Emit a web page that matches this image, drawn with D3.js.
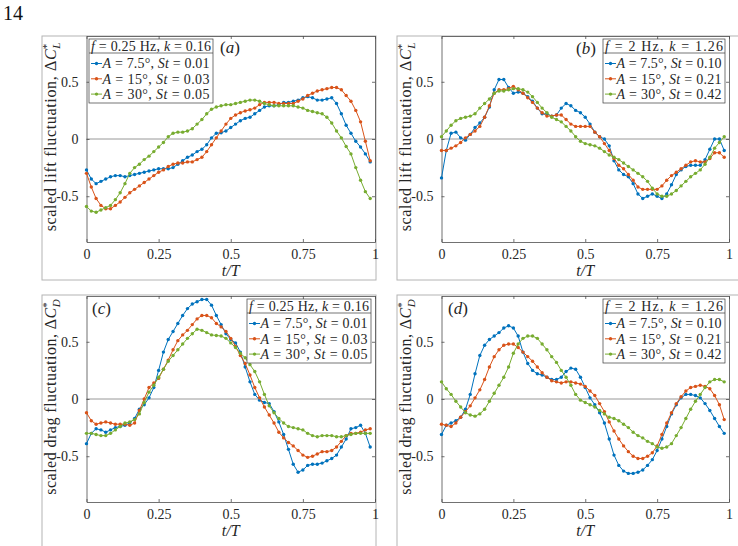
<!DOCTYPE html>
<html>
<head>
<meta charset="utf-8">
<script src="https://cdn.jsdelivr.net/npm/d3@7"></script>
<style>
  body { margin: 0; background: #fff; }
</style>
</head>
<body>
<script>
// sample phase t/T, 60 samples per cycle
var phase = d3.range(60).map(function(i) { return i / 60; });

// (a) lift, f = 0.25 Hz
var liftLow75 = [-0.27,-0.35,-0.39,-0.37,-0.35,-0.33,-0.32,-0.32,-0.33,-0.32,
  -0.31,-0.30,-0.29,-0.28,-0.27,-0.26,-0.26,-0.26,-0.25,-0.22,
  -0.19,-0.16,-0.14,-0.11,-0.09,-0.05,0.01,0.05,0.055,0.07,
  0.10,0.13,0.16,0.18,0.19,0.22,0.25,0.28,0.29,0.29,
  0.30,0.32,0.32,0.33,0.34,0.36,0.37,0.36,0.34,0.34,
  0.35,0.36,0.31,0.22,0.12,0.05,-0.02,-0.07,-0.13,-0.20];
var liftLow15 = [-0.30,-0.42,-0.52,-0.58,-0.61,-0.61,-0.58,-0.55,-0.51,-0.47,
  -0.44,-0.41,-0.38,-0.35,-0.32,-0.29,-0.27,-0.24,-0.22,-0.21,
  -0.21,-0.20,-0.20,-0.18,-0.16,-0.11,-0.05,0.01,0.07,0.13,
  0.18,0.21,0.23,0.245,0.255,0.27,0.30,0.32,0.32,0.32,
  0.31,0.31,0.31,0.31,0.33,0.35,0.38,0.40,0.42,0.43,
  0.44,0.45,0.45,0.43,0.38,0.33,0.25,0.15,-0.02,-0.19];
var liftLow30 = [-0.59,-0.63,-0.64,-0.62,-0.60,-0.58,-0.53,-0.47,-0.39,-0.30,
  -0.25,-0.22,-0.18,-0.15,-0.11,-0.07,-0.03,0.02,0.05,0.06,
  0.06,0.07,0.09,0.13,0.17,0.22,0.26,0.28,0.29,0.30,
  0.30,0.31,0.32,0.33,0.34,0.34,0.33,0.31,0.30,0.29,
  0.29,0.29,0.29,0.29,0.28,0.27,0.25,0.24,0.23,0.22,
  0.19,0.14,0.07,0.01,-0.065,-0.13,-0.25,-0.36,-0.46,-0.52];

// (b) lift, f = 2 Hz
var liftHigh75 = [-0.34,-0.10,0.05,0.06,0.01,-0.01,0.04,0.10,0.14,0.19,
  0.28,0.43,0.52,0.52,0.45,0.40,0.41,0.40,0.37,0.33,
  0.27,0.22,0.22,0.20,0.21,0.27,0.31,0.29,0.25,0.23,
  0.19,0.13,0.06,0.02,0.00,-0.06,-0.19,-0.27,-0.31,-0.33,
  -0.39,-0.48,-0.52,-0.50,-0.48,-0.50,-0.52,-0.48,-0.40,-0.31,
  -0.27,-0.24,-0.23,-0.23,-0.23,-0.18,-0.09,0.00,0.00,-0.10];
var liftHigh15 = [-0.10,-0.10,-0.08,-0.06,-0.03,0.01,0.04,0.07,0.11,0.19,
  0.29,0.40,0.43,0.43,0.44,0.46,0.43,0.40,0.36,0.32,
  0.27,0.23,0.20,0.20,0.21,0.21,0.17,0.13,0.11,0.11,
  0.11,0.11,0.06,0.02,-0.04,-0.10,-0.17,-0.23,-0.26,-0.31,
  -0.36,-0.42,-0.44,-0.44,-0.44,-0.44,-0.41,-0.36,-0.32,-0.29,
  -0.26,-0.23,-0.20,-0.19,-0.20,-0.20,-0.17,-0.12,-0.12,-0.16];
var liftHigh30 = [0.02,0.07,0.12,0.16,0.18,0.19,0.20,0.22,0.27,0.31,
  0.35,0.40,0.42,0.42,0.43,0.44,0.44,0.43,0.41,0.37,
  0.32,0.27,0.23,0.19,0.17,0.15,0.11,0.07,0.02,-0.02,
  -0.04,-0.05,-0.06,-0.08,-0.11,-0.14,-0.16,-0.18,-0.21,-0.24,
  -0.27,-0.30,-0.33,-0.37,-0.43,-0.48,-0.50,-0.50,-0.48,-0.45,
  -0.41,-0.37,-0.33,-0.30,-0.27,-0.22,-0.16,-0.08,-0.03,0.02];

// (c) drag, f = 0.25 Hz
var dragLow75 = [-0.39,-0.30,-0.26,-0.27,-0.29,-0.27,-0.25,-0.24,-0.23,-0.21,
  -0.17,-0.09,-0.05,0.01,0.10,0.25,0.41,0.52,0.59,0.66,
  0.73,0.79,0.83,0.85,0.87,0.87,0.82,0.73,0.65,0.57,
  0.52,0.49,0.41,0.28,0.15,0.04,-0.01,-0.03,-0.04,-0.11,
  -0.20,-0.31,-0.44,-0.57,-0.64,-0.62,-0.58,-0.57,-0.57,-0.56,
  -0.54,-0.52,-0.49,-0.42,-0.35,-0.26,-0.25,-0.23,-0.30,-0.42];
var dragLow15 = [-0.12,-0.19,-0.22,-0.21,-0.20,-0.21,-0.22,-0.22,-0.22,-0.23,
  -0.21,-0.10,0.00,0.10,0.14,0.18,0.26,0.34,0.43,0.51,
  0.56,0.60,0.65,0.70,0.73,0.73,0.71,0.66,0.63,0.59,
  0.53,0.46,0.38,0.31,0.21,0.10,0.01,-0.07,-0.14,-0.21,
  -0.29,-0.34,-0.38,-0.41,-0.45,-0.49,-0.51,-0.50,-0.48,-0.46,
  -0.46,-0.45,-0.42,-0.37,-0.32,-0.30,-0.30,-0.29,-0.27,-0.26];
var dragLow30 = [-0.30,-0.30,-0.31,-0.32,-0.32,-0.30,-0.27,-0.24,-0.21,-0.20,
  -0.18,-0.13,-0.03,0.06,0.12,0.19,0.26,0.33,0.38,0.43,
  0.48,0.53,0.57,0.61,0.60,0.58,0.56,0.555,0.55,0.53,
  0.49,0.45,0.40,0.36,0.30,0.24,0.15,0.04,-0.06,-0.12,
  -0.17,-0.21,-0.24,-0.25,-0.26,-0.27,-0.30,-0.32,-0.33,-0.32,
  -0.32,-0.32,-0.33,-0.33,-0.32,-0.31,-0.30,-0.30,-0.30,-0.30];

// (d) drag, f = 2 Hz
var dragHigh75 = [-0.31,-0.23,-0.21,-0.19,-0.16,-0.09,0.04,0.22,0.38,0.47,
  0.52,0.55,0.58,0.62,0.64,0.62,0.55,0.41,0.31,0.25,
  0.22,0.21,0.19,0.17,0.17,0.19,0.24,0.27,0.26,0.19,
  0.10,0.01,-0.05,-0.12,-0.21,-0.35,-0.49,-0.58,-0.63,-0.65,
  -0.65,-0.64,-0.62,-0.58,-0.53,-0.45,-0.35,-0.24,-0.13,-0.05,
  0.01,0.04,0.04,0.03,0.01,-0.04,-0.10,-0.17,-0.24,-0.30];
var dragHigh15 = [-0.22,-0.23,-0.24,-0.21,-0.16,-0.11,-0.06,0.01,0.08,0.17,
  0.28,0.37,0.43,0.47,0.48,0.48,0.45,0.41,0.37,0.33,
  0.28,0.23,0.19,0.16,0.15,0.14,0.15,0.15,0.14,0.13,
  0.11,0.07,0.03,-0.04,-0.11,-0.20,-0.28,-0.35,-0.41,-0.46,
  -0.50,-0.52,-0.52,-0.50,-0.47,-0.41,-0.31,-0.21,-0.12,-0.04,
  0.02,0.07,0.10,0.11,0.12,0.11,0.09,0.03,-0.05,-0.18];
var dragHigh30 = [0.15,0.09,0.04,-0.02,-0.07,-0.12,-0.14,-0.15,-0.13,-0.09,
  -0.02,0.05,0.12,0.19,0.28,0.40,0.48,0.53,0.55,0.55,
  0.53,0.48,0.43,0.37,0.32,0.25,0.19,0.12,0.04,-0.01,
  -0.03,-0.05,-0.07,-0.10,-0.13,-0.16,-0.17,-0.19,-0.22,-0.25,
  -0.29,-0.32,-0.34,-0.37,-0.39,-0.42,-0.43,-0.42,-0.39,-0.32,
  -0.25,-0.17,-0.09,-0.02,0.04,0.10,0.15,0.17,0.17,0.15];

var seriesColors = ["#0072BD", "#D95319", "#77AC30"];
var ampLabels = ["7.5°", "15°", "30°"];
var stLow = ["0.01", "0.03", "0.05"];
var stHigh = ["0.10", "0.21", "0.42"];
var freqLabels = ["0.25 Hz", "2 Hz"];
var kLabels = ["0.16", "1.26"];
var xTicks = [0, 0.25, 0.5, 0.75, 1];
var xTickLabels = ["0", "0.25", "0.5", "0.75", "1"];
var yTicks = [-0.5, 0, 0.5];
var yTickLabels = ["-0.5", "0", "0.5"];

var serif = "'Liberation Serif', 'Times New Roman', serif";
var ink = "#262626";

var svg = d3.select("body").append("svg")
  .attr("width", 738)
  .attr("height", 546)
  .attr("font-family", serif);

svg.append("rect").attr("width", 738).attr("height", 546).attr("fill", "#fff");

// page number
svg.append("text").attr("x", 3).attr("y", 20).attr("font-size", 20)
  .attr("font-family", serif).attr("fill", "#111").text("14");

var panels = [
  { tag: "a", left: 86.5, right: 375, top: 36, frame: [42, 36, 376, 280],
    series: [liftLow75, liftLow15, liftLow30], quantity: "lift", coeff: "L",
    freq: 0, st: stLow, legend: [89, 39, 124], tagPos: [220, 53] },
  { tag: "b", left: 441.5, right: 729, top: 36, frame: [397, 36, 745, 280],
    series: [liftHigh75, liftHigh15, liftHigh30], quantity: "lift", coeff: "L",
    freq: 1, st: stHigh, legend: [603, 39, 122], tagPos: [576, 54] },
  { tag: "c", left: 86.5, right: 375, top: 296, frame: [42, 295, 376, 560],
    series: [dragLow75, dragLow15, dragLow30], quantity: "drag", coeff: "D",
    freq: 0, st: stLow, legend: [247, 299, 124], tagPos: [92, 314] },
  { tag: "d", left: 441.5, right: 729, top: 296, frame: [397, 295, 745, 560],
    series: [dragHigh75, dragHigh15, dragHigh30], quantity: "drag", coeff: "D",
    freq: 1, st: stHigh, legend: [603, 299, 122], tagPos: [448, 314] }
];

var plotH = 206;

// write a run of [text, italic] parts into a text element
function richText(sel, parts) {
  parts.forEach(function(p) {
    var t = sel.append("tspan").text(p[0]);
    if (p[1]) t.attr("font-style", "italic");
  });
  return sel;
}

function addText(sel) {
  return sel.append("text").attr("font-family", serif).attr("fill", ink);
}

panels.forEach(function(p) {
  var g = svg.append("g");

  // light frame around the sub-figure
  g.append("rect")
    .attr("x", p.frame[0]).attr("y", p.frame[1])
    .attr("width", p.frame[2] - p.frame[0]).attr("height", p.frame[3] - p.frame[1])
    .attr("fill", "none").attr("stroke", "#b4b4b4").attr("stroke-width", 1);

  var x = d3.scaleLinear().domain([0, 1]).range([p.left, p.right]);
  var y = d3.scaleLinear().domain([-0.9, 0.9]).range([p.top + plotH, p.top]);

  // zero line
  g.append("line")
    .attr("x1", x(0)).attr("x2", x(1)).attr("y1", y(0)).attr("y2", y(0))
    .attr("stroke", "#8c8c8c").attr("stroke-width", 0.9);

  // axes with inward ticks on all four sides
  g.append("g").attr("transform", "translate(0," + (p.top + plotH) + ")")
    .call(d3.axisBottom(x).tickValues(xTicks).tickSizeInner(-3).tickSizeOuter(0)
      .tickPadding(7).tickFormat(function(d, i) { return xTickLabels[i]; }));
  g.append("g").attr("transform", "translate(" + p.left + ",0)")
    .call(d3.axisLeft(y).tickValues(yTicks).tickSizeInner(-3).tickSizeOuter(0)
      .tickPadding(8).tickFormat(function(d, i) { return yTickLabels[i]; }));
  g.append("g").attr("transform", "translate(0," + p.top + ")")
    .call(d3.axisTop(x).tickValues(xTicks).tickSizeInner(-3).tickSizeOuter(0).tickFormat(""));
  g.append("g").attr("transform", "translate(" + p.right + ",0)")
    .call(d3.axisRight(y).tickValues(yTicks).tickSizeInner(-3).tickSizeOuter(0).tickFormat(""));

  g.selectAll("g").attr("font-family", serif);
  g.selectAll(".domain").attr("stroke", "#4d4d4d").attr("stroke-width", 0.8);
  g.selectAll(".tick line").attr("stroke", "#4d4d4d").attr("stroke-width", 0.8);
  g.selectAll(".tick text").attr("font-family", serif).attr("font-size", 14).attr("fill", ink);

  // axis labels
  addText(g)
    .attr("x", (p.left + p.right) / 2).attr("y", p.top + plotH + 34)
    .attr("text-anchor", "middle").attr("font-size", 16).attr("font-style", "italic")
    .text("t/T");

  var yl = addText(g)
    .attr("transform", "translate(" + (p.left - 31) + "," + (p.top + plotH / 2 - 2) + ") rotate(-90)")
    .attr("text-anchor", "middle").attr("font-size", 16);
  var yMain = yl.append("tspan").text("scaled " + p.quantity + " fluctuation, \u0394");
  yl.append("tspan").attr("font-style", "italic").text("C");
  yl.append("tspan").attr("font-size", 11).attr("dy", -6).text("*");
  yl.append("tspan").attr("font-size", 11).attr("font-style", "italic").attr("dx", -5).attr("dy", 10).text(p.coeff);
  // stretch to the label length seen in the figure
  var target = p.quantity === "lift" ? 193 : 200;
  var full = yl.node().getComputedTextLength();
  var mainLen = yMain.node().getComputedTextLength();
  yMain.attr("textLength", mainLen + (target - full)).attr("lengthAdjust", "spacing");

  // curves
  var line = d3.line()
    .x(function(d, i) { return x(phase[i]); })
    .y(function(d) { return y(d); });

  p.series.forEach(function(values, s) {
    g.append("path").datum(values)
      .attr("d", line)
      .attr("fill", "none").attr("stroke", seriesColors[s]).attr("stroke-width", 1);
    g.selectAll(".pt" + s).data(values).enter().append("circle")
      .attr("class", "pt" + s)
      .attr("cx", function(d, i) { return x(phase[i]); })
      .attr("cy", function(d) { return y(d); })
      .attr("r", 1.7)
      .attr("fill", seriesColors[s]);
  });

  // panel tag
  var tg = addText(g).attr("x", p.tagPos[0]).attr("y", p.tagPos[1]).attr("font-size", 17);
  richText(tg, [["(", false], [p.tag, true], [")", false]]);

  // legend
  var lx = p.legend[0], ly = p.legend[1], lw = p.legend[2];
  var lg = g.append("g");
  lg.append("rect").attr("x", lx).attr("y", ly).attr("width", lw).attr("height", 64)
    .attr("fill", "#fff").attr("stroke", "#3a3a3a").attr("stroke-width", 0.7);
  lg.append("line").attr("x1", lx).attr("x2", lx + lw).attr("y1", ly + 14).attr("y2", ly + 14)
    .attr("stroke", "#3a3a3a").attr("stroke-width", 0.7);
  var head = addText(lg).attr("x", lx + lw / 2).attr("y", ly + 12)
    .attr("text-anchor", "middle").attr("font-size", 14)
    .attr("textLength", lw - 4).attr("lengthAdjust", "spacing");
  richText(head, [["f", true], [" = " + freqLabels[p.freq] + ", ", false], ["k", true], [" = " + kLabels[p.freq], false]]);

  ampLabels.forEach(function(a, s) {
    var ry = ly + 24.5 + s * 15.3;
    lg.append("line").attr("x1", lx + 2).attr("x2", lx + 13).attr("y1", ry).attr("y2", ry)
      .attr("stroke", seriesColors[s]).attr("stroke-width", 1);
    lg.append("circle").attr("cx", lx + 7.5).attr("cy", ry).attr("r", 1.7).attr("fill", seriesColors[s]);
    var rt = addText(lg).attr("x", lx + 13.5).attr("y", ry + 4.8).attr("font-size", 14)
      .attr("textLength", lw - 17).attr("lengthAdjust", "spacing");
    richText(rt, [["A", true], [" = " + a + ", ", false], ["St", true], [" = " + p.st[s], false]]);
  });
});
</script>
</body>
</html>
